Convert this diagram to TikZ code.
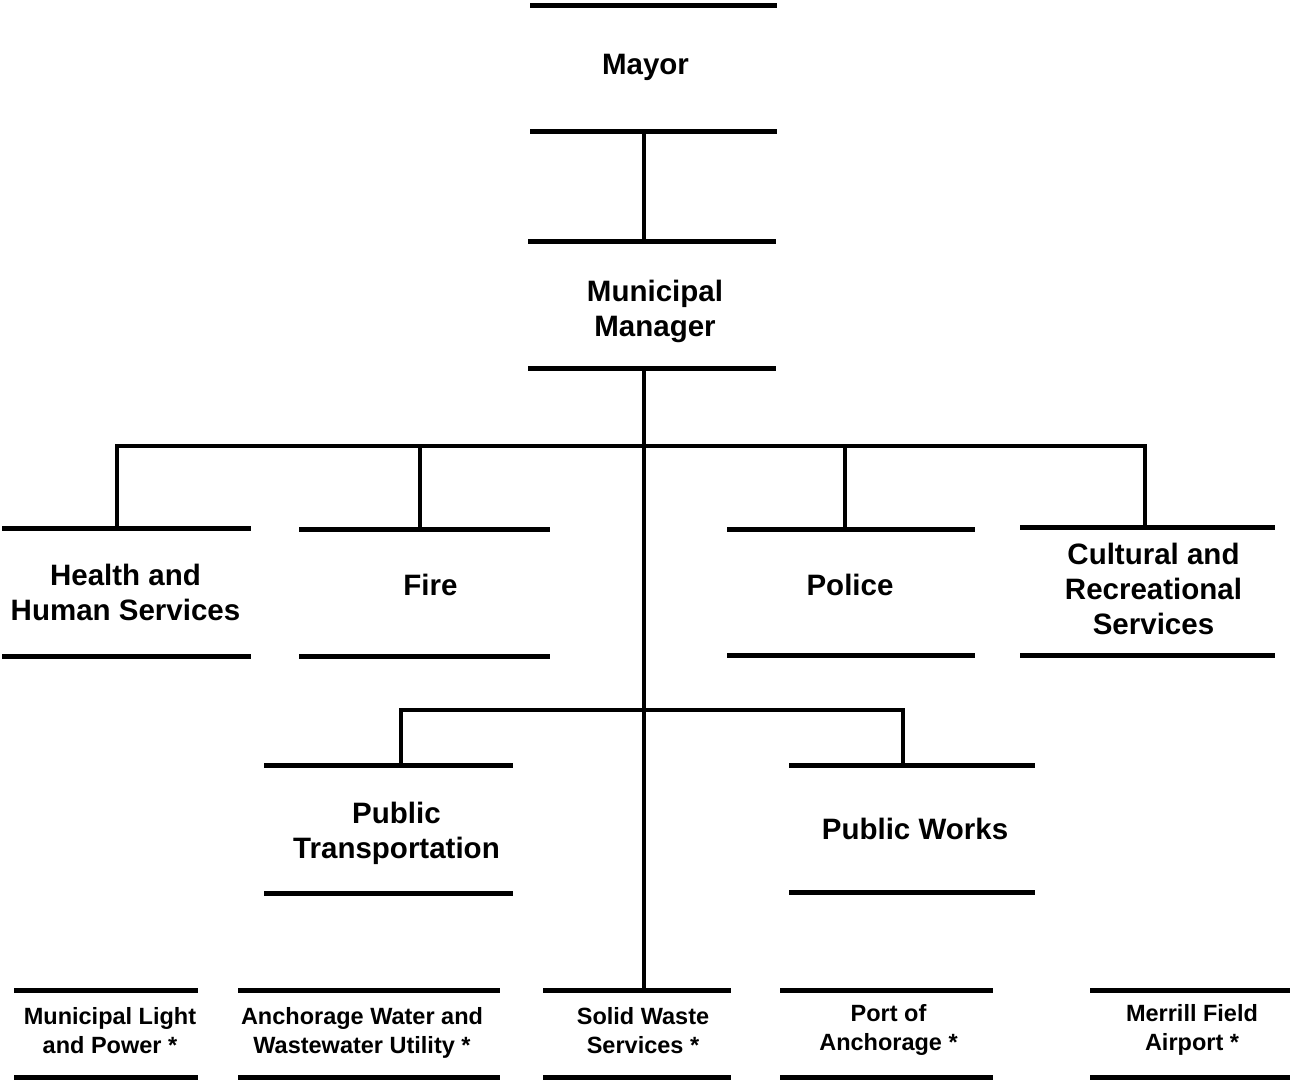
\documentclass[tikz,border=0pt]{standalone}
\usepackage{fontspec}
\setmainfont{Liberation Sans}
\begin{document}
\begin{tikzpicture}
[x=1pt,y=-1pt,
  unitbox/.style={shape=rectangle,inner sep=0pt,outer sep=0pt},%
  unittext/.style={inner sep=0pt,align=center,
    font=\fontsize{29.5}{35}\selectfont\bfseries},%
  smalltext/.style={unittext,font=\fontsize{23.5}{29}\selectfont\bfseries},%
  barline/.style={-,line width=5pt},%
  linkline/.style={-,line width=4pt}]
\useasboundingbox[fill=white] (0,0) rectangle (1291,1082);
%% offices and departments
\foreach \nodename/\xl/\xr/\yt/\yb/\dx/\dy/\nodelabel in {
  mayor/530/777/5/131/-8/-1/{Mayor},
  mm/528/776/241/368/3/6.5/{Municipal\\Manager},
  hhs/2/251/528/656/-1/0/{Health and\\Human Services},
  fire/299/550/529/656/6/-8/{Fire},
  police/727/975/529/655/-1/-7/{Police},
  crs/1020/1275/527/655/6/-2/{Cultural and\\Recreational\\Services},
  pt/264/513/765/893/8/4/{Public\\Transportation},
  pw/789/1035/765/892/3/0/{Public Works}} {
  \node (\nodename) at ({(\xl+\xr)/2},{(\yt+\yb)/2})
    [unitbox,minimum width={(\xr-\xl)*1pt},minimum height={(\yb-\yt)*1pt}] {};
  \node (\nodename-t) at ([shift={(\dx,\dy)}]\nodename.center) [unittext] {\nodelabel};
  \draw[barline] (\nodename.north west) -- (\nodename.north east);
  \draw[barline] (\nodename.south west) -- (\nodename.south east);
}
%% utilities
\foreach \nodename/\xl/\xr/\dx/\dy/\nodelabel in {
  mlp/14/198/4/-3/{Municipal Light\\and Power *},
  awwu/238/500/-7/-1/{Anchorage Water and\\Wastewater Utility *},
  sws/543/731/6/-3/{Solid Waste\\Services *},
  port/780/993/2/-4/{Port of\\Anchorage *},
  mfa/1090/1290/2/-4/{Merrill Field\\Airport *}} {
  \node (\nodename) at ({(\xl+\xr)/2},1033.5)
    [unitbox,minimum width={(\xr-\xl)*1pt},minimum height=87pt] {};
  \node (\nodename-t) at ([shift={(\dx,\dy)}]\nodename.center) [smalltext] {\nodelabel};
  \draw[barline] (\nodename.north west) -- (\nodename.north east);
  \draw[barline] (\nodename.south west) -- (\nodename.south east);
}
%% lines
\coordinate (bus1) at (644,446);
\coordinate (bus2) at (644,710);
\draw[linkline] (mayor.south -| bus1) -- (mm.north -| bus1);
\draw[linkline] (mm.south -| bus1) -- (sws.north -| bus1);
\foreach \unit/\dx/\bus in {hhs/-10/bus1, fire/-5/bus1, police/-6/bus1,
  crs/-3/bus1, pt/12/bus2, pw/-9/bus2} {
  \draw[linkline] ([xshift=\dx pt]\unit.north) |- (\bus);
}
\end{tikzpicture}
\end{document}
